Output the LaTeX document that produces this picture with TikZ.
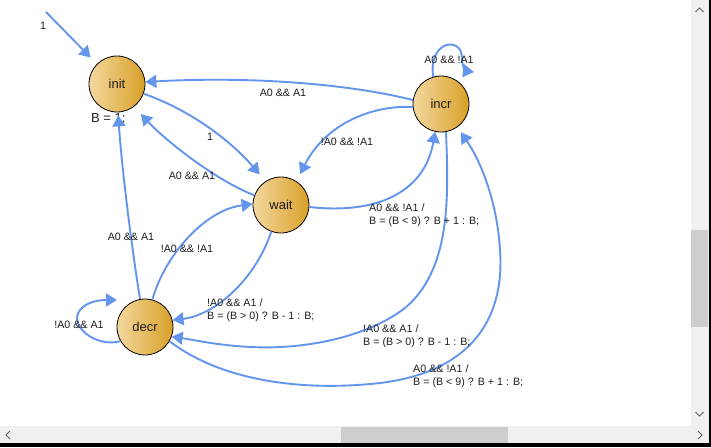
\documentclass[tikz,border=0pt]{standalone}
\usepackage{fontspec}
\setmainfont{Liberation Sans}
\usetikzlibrary{arrows.meta}
\definecolor{edgeblue}{RGB}{100,149,237}
\definecolor{goldL}{RGB}{243,216,158}
\definecolor{goldR}{RGB}{216,160,40}
\definecolor{sbtrack}{RGB}{240,240,240}
\definecolor{sbthumb}{RGB}{205,205,205}
\definecolor{sbglyph}{RGB}{96,96,96}
\definecolor{txt}{RGB}{30,30,30}
\begin{document}
\begin{tikzpicture}[x=1pt,y=-1pt,
  state/.style={circle, draw=black, line width=0.8pt, minimum size=56pt, inner sep=0pt,
    left color=goldL, right color=goldR, font=\fontsize{13pt}{15pt}\selectfont, text=txt},
  edge/.style={draw=edgeblue, line width=1.9pt, -{Triangle[length=11pt,width=13pt]}},
  lbl/.style={font=\fontsize{10.7pt}{12.5pt}\selectfont, text=txt, inner sep=0pt},
  lbltwo/.style={lbl, align=left, anchor=west},
  sbar/.style={fill=sbtrack, draw=none},
  sthumb/.style={fill=sbthumb, draw=none},
  chev/.style={draw=sbglyph, line width=1pt}
]
\useasboundingbox (0,0) rectangle (711,447);
\fill[white] (0,0) rectangle (711,447);

% states
\node[state] (init) at (117,84) {init};
\node[state] (incr) at (441,104) {incr};
\node[state] (wait) at (281,205) {wait};
\node[state] (decr) at (145,327) {decr};

\node[lbl, font=\fontsize{13pt}{15pt}\selectfont, anchor=west] (initact) at (91,119) {B = 1;};

\coordinate (start) at (46,12);
\coordinate (incrloopend) at (474,72);
\coordinate (decrloopend) at (117,300);

% transitions
\draw[edge, shorten >=9pt] (start) -- (init.135);
\draw[edge] (incr.172) .. controls (350,84) and (250,76) .. (init.4);
\draw[edge, shorten >=9pt] (init.340) .. controls (190,110) and (230,140) .. (wait.123);
\draw[edge, shorten >=10pt] (wait.160) .. controls (215,180) and (165,140) .. (init.307);
\draw[edge] (wait.356) .. controls (380,215) and (425,190) .. (incr.258);
\draw[edge, shorten >=8pt] (incr.186) .. controls (370,105) and (325,125) .. (wait.57);
\draw[edge] (incr.106) .. controls (428,40) and (462,36) .. (462,58) .. controls (462,67) and (466,71) .. (incrloopend);
\draw[edge, shorten >=3pt] (decr.100) .. controls (132,250) and (122,170) .. (init.272);
\draw[edge] (decr.75) .. controls (165,255) and (205,210) .. (wait.178);
\draw[edge] (wait.250) .. controls (255,280) and (215,315) .. (decr.14);
\draw[edge] (decr.210) .. controls (95,348) and (68,325) .. (80,310) .. controls (88,300) and (104,300) .. (decrloopend);
\draw[edge] (incr.280) .. controls (449,200) and (450,270) .. (405,308) .. controls (370,335) and (310,350) .. (250,347) .. controls (215,345) and (195,340) .. (decr.-20);
\draw[edge, shorten >=6pt] (decr.-30) .. controls (220,380) and (300,392) .. (380,383) .. controls (470,372) and (505,320) .. (500,250) .. controls (497,200) and (480,160) .. (incr.-55);

% labels
\node[lbl] (l1) at (43,26) {1};
\node[lbl] (l2) at (283,93) {A0 \&\& A1};
\node[lbl] (l3) at (210,137) {1};
\node[lbl] (l4) at (192,176) {A0 \&\& A1};
\node[lbltwo] (l5) at (369,215) {A0 \&\& !A1 /\\B = (B < 9) ? B + 1 : B;};
\node[lbl] (l6) at (347,142) {!A0 \&\& !A1};
\node[lbl] (l7) at (449,60) {A0 \&\& !A1};
\node[lbl] (l8) at (131,237) {A0 \&\& A1};
\node[lbl] (l9) at (187,249) {!A0 \&\& !A1};
\node[lbltwo] (l10) at (207,310) {!A0 \&\& A1 /\\B = (B > 0) ? B - 1 : B;};
\node[lbl] (l11) at (79,325) {!A0 \&\& A1};
\node[lbltwo] (l12) at (363,336) {!A0 \&\& A1 /\\B = (B > 0) ? B - 1 : B;};
\node[lbltwo] (l13) at (413,376) {A0 \&\& !A1 /\\B = (B < 9) ? B + 1 : B;};

% scrollbars
\fill[sbar] (691,0) rectangle (709,426);
\fill[sthumb] (691,230) rectangle (708,327);
\fill[sbar] (0,426) rectangle (709,443);
\fill[sthumb] (341,427) rectangle (508,443);
\fill[black] (709,0) rectangle (711,447);
\fill[black] (0,443) rectangle (711,447);
\draw[chev] (695.5,12) -- (699.5,8) -- (703.5,12);
\draw[chev] (695.5,412) -- (699.5,416) -- (703.5,412);
\draw[chev] (10,431) -- (6,435) -- (10,439);
\draw[chev] (698,431) -- (702,435) -- (698,439);
\end{tikzpicture}
\end{document}
